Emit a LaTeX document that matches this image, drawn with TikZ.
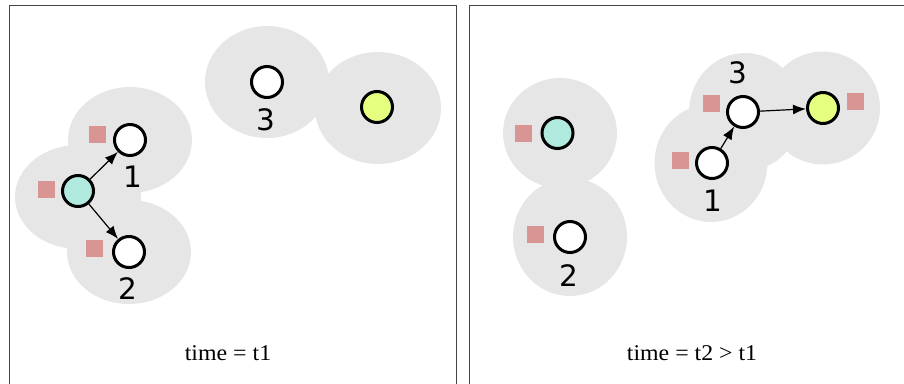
\documentclass[tikz,border=0pt]{standalone}
\usepackage{fontspec}
\setmainfont{Liberation Serif}
\newfontfamily\labelfont{DejaVu Sans}
\newfontfamily\timefont[FakeStretch=1.06]{Liberation Serif}
\usetikzlibrary{arrows.meta}
\definecolor{blobgray}{HTML}{E6E6E6}
\definecolor{cyanfill}{HTML}{B0E9DE}
\definecolor{yellowfill}{HTML}{E5FF80}
\definecolor{redsq}{HTML}{D99594}
\definecolor{framecol}{HTML}{444444}
\tikzset{
  blob/.style={fill=blobgray, draw=none},
  agent/.style={circle, draw=black, line width=3pt, minimum size=31pt, inner sep=0pt, fill=white},
  cyanagent/.style={agent, fill=cyanfill},
  yellowagent/.style={agent, fill=yellowfill},
  sq/.style={fill=redsq, draw=none, minimum size=17pt, inner sep=0pt, rectangle},
  num/.style={font=\labelfont\fontsize{29.5}{29.5}\selectfont, inner sep=0pt},
  timelabel/.style={font=\timefont\fontsize{22.5}{22.5}\selectfont, inner sep=0pt},
  link/.style={line width=1.2pt, -{Latex[length=13pt,width=10pt]}},
  frame/.style={draw=framecol, line width=1pt}
}
\begin{document}
\begin{tikzpicture}[x=1pt,y=-1pt]
\useasboundingbox (0,0) rectangle (904,383);
% frames
\draw[frame] (9.5,400) -- (9.5,5.5) -- (456,5.5) -- (456,400);
\draw[frame] (469.5,400) -- (469.5,5.5) -- (910,5.5);
% ---------- left panel blobs
\fill[blob] (78,197) ellipse [x radius=63, y radius=52];
\fill[blob] (130,140) ellipse [x radius=62, y radius=53];
\fill[blob] (129,252) ellipse [x radius=62, y radius=52];
\fill[blob] (267,82) ellipse [x radius=62, y radius=56];
\fill[blob] (378,108) ellipse [x radius=63, y radius=56];
% ---------- right panel blobs
\fill[blob] (560,133) ellipse [x radius=57, y radius=55];
\fill[blob] (570,237) ellipse [x radius=57, y radius=59];
\fill[blob] (745,112) ellipse [x radius=56, y radius=59];
\fill[blob] (711,163) ellipse [x radius=56.5, y radius=59];
\fill[blob] (823,108) ellipse [x radius=57, y radius=56.5];
% ---------- left panel
\node[sq] (lsq1) at (97.5,134.5) {};
\node[sq] (lsqc) at (46.5,189.5) {};
\node[sq] (lsq2) at (94.5,248.5) {};
\node[cyanagent] (lc) at (78,191) {};
\node[agent] (l1) at (130,140) {};
\node[agent] (l2) at (129,252) {};
\node[agent] (l3) at (267,82) {};
\node[yellowagent] (ly) at (377,107) {};
\node[num] (ll1) at (133,177) {1};
\node[num] (ll2) at (128,289) {2};
\node[num] (ll3) at (266,120) {3};
\draw[link] (lc) -- (l1);
\draw[link] (lc) -- (l2);
\node[timelabel] (lt) at (228,353) {time = t1};
% ---------- right panel
\node[sq] (rsqc) at (523.5,133.5) {};
\node[sq] (rsq2) at (535.5,234.5) {};
\node[sq] (rsq1) at (680.5,160.5) {};
\node[sq] (rsq3) at (711.5,103.5) {};
\node[sq] (rsqy) at (855.5,101.5) {};
\node[cyanagent] (rc) at (557.5,133) {};
\node[agent] (r2) at (570,237) {};
\node[agent] (r1) at (712,163) {};
\node[agent] (r3) at (743,112) {};
\node[yellowagent] (ry) at (823,108) {};
\node[num] (rl2) at (569,276) {2};
\node[num] (rl1) at (713,201) {1};
\node[num] (rl3) at (738,73) {3};
\draw[link] (r1) -- (r3);
\draw[link] (r3) -- (ry);
\node[timelabel] (rt) at (692,353) {time = t2 > t1};
\end{tikzpicture}
\end{document}
